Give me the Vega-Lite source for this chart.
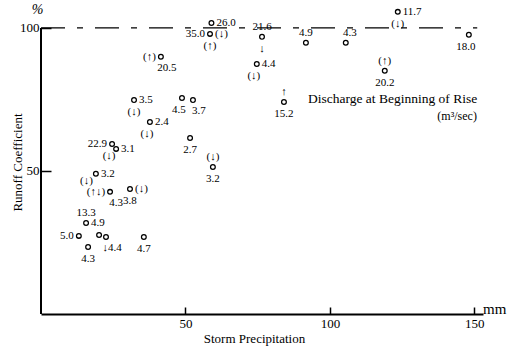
{
  "$schema": "https://vega.github.io/schema/vega-lite/v6.json",
  "width": 442,
  "height": 309,
  "autosize": {"type": "none"},
  "padding": {"left": 41, "top": 5, "right": 26, "bottom": 35},
  "background": "white",
  "config": {"view": {"stroke": null}, "font": "Liberation Serif"},
  "datasets": {
    "points": [
      {"precip": 59.0, "runoff": 101.7},
      {"precip": 58.5, "runoff": 97.9},
      {"precip": 76.5, "runoff": 96.9},
      {"precip": 74.7, "runoff": 87.4},
      {"precip": 91.7, "runoff": 94.8},
      {"precip": 105.5, "runoff": 94.8},
      {"precip": 123.5, "runoff": 105.6},
      {"precip": 119.0, "runoff": 85.0},
      {"precip": 148.1, "runoff": 97.6},
      {"precip": 84.1, "runoff": 74.1},
      {"precip": 41.5, "runoff": 89.9},
      {"precip": 32.2, "runoff": 74.8},
      {"precip": 48.8, "runoff": 75.5},
      {"precip": 52.6, "runoff": 74.8},
      {"precip": 37.7, "runoff": 67.1},
      {"precip": 51.6, "runoff": 61.5},
      {"precip": 59.5, "runoff": 51.4},
      {"precip": 24.6, "runoff": 59.4},
      {"precip": 26.0, "runoff": 57.7},
      {"precip": 19.0, "runoff": 49.0},
      {"precip": 23.9, "runoff": 42.7},
      {"precip": 30.8, "runoff": 43.7},
      {"precip": 15.6, "runoff": 31.8},
      {"precip": 13.1, "runoff": 27.3},
      {"precip": 16.3, "runoff": 23.4},
      {"precip": 20.1, "runoff": 27.6},
      {"precip": 22.5, "runoff": 26.9},
      {"precip": 35.6, "runoff": 26.9}
    ],
    "labels": [
      {"precip": 59.0, "runoff": 101.7, "text": "26.0", "pos": "right"},
      {"precip": 58.5, "runoff": 97.9, "text": "35.0", "pos": "left"},
      {"precip": 58.5, "runoff": 97.9, "text": "(↓)", "pos": "right"},
      {"precip": 58.5, "runoff": 97.9, "text": "(↑)", "pos": "below"},
      {"precip": 76.5, "runoff": 96.9, "text": "21.6", "pos": "above"},
      {"precip": 76.5, "runoff": 96.9, "text": "↓", "pos": "below"},
      {"precip": 74.7, "runoff": 87.4, "text": "4.4", "pos": "right"},
      {"precip": 74.7, "runoff": 87.4, "text": "(↓)", "pos": "belowleft"},
      {"precip": 91.7, "runoff": 94.8, "text": "4.9", "pos": "above"},
      {"precip": 105.5, "runoff": 94.8, "text": "4.3", "pos": "aboveright"},
      {"precip": 123.5, "runoff": 105.6, "text": "11.7", "pos": "right"},
      {"precip": 123.5, "runoff": 105.6, "text": "(↓)", "pos": "below"},
      {"precip": 119.0, "runoff": 85.0, "text": "20.2", "pos": "below"},
      {"precip": 119.0, "runoff": 85.0, "text": "(↑)", "pos": "above"},
      {"precip": 148.1, "runoff": 97.6, "text": "18.0", "pos": "belowleft"},
      {"precip": 84.1, "runoff": 74.1, "text": "15.2", "pos": "below"},
      {"precip": 84.1, "runoff": 74.1, "text": "↑", "pos": "above"},
      {"precip": 41.5, "runoff": 89.9, "text": "(↑)", "pos": "left"},
      {"precip": 41.5, "runoff": 89.9, "text": "20.5", "pos": "belowright"},
      {"precip": 32.2, "runoff": 74.8, "text": "3.5", "pos": "right"},
      {"precip": 32.2, "runoff": 74.8, "text": "(↓)", "pos": "below"},
      {"precip": 48.8, "runoff": 75.5, "text": "4.5", "pos": "belowleft"},
      {"precip": 52.6, "runoff": 74.8, "text": "3.7", "pos": "belowright"},
      {"precip": 37.7, "runoff": 67.1, "text": "2.4", "pos": "right"},
      {"precip": 37.7, "runoff": 67.1, "text": "(↓)", "pos": "belowleft"},
      {"precip": 51.6, "runoff": 61.5, "text": "2.7", "pos": "below"},
      {"precip": 59.5, "runoff": 51.4, "text": "3.2", "pos": "below"},
      {"precip": 59.5, "runoff": 51.4, "text": "(↓)", "pos": "above"},
      {"precip": 24.6, "runoff": 59.4, "text": "22.9", "pos": "left"},
      {"precip": 24.6, "runoff": 59.4, "text": "(↓)", "pos": "belowleft"},
      {"precip": 26.0, "runoff": 57.7, "text": "3.1", "pos": "right"},
      {"precip": 19.0, "runoff": 49.0, "text": "3.2", "pos": "right"},
      {"precip": 19.0, "runoff": 49.0, "text": "(↓)", "pos": "leftbelow"},
      {"precip": 23.9, "runoff": 42.7, "text": "(↑↓)", "pos": "left"},
      {"precip": 23.9, "runoff": 42.7, "text": "4.3", "pos": "belowright"},
      {"precip": 30.8, "runoff": 43.7, "text": "(↓)", "pos": "right"},
      {"precip": 30.8, "runoff": 43.7, "text": "3.8", "pos": "below"},
      {"precip": 15.6, "runoff": 31.8, "text": "13.3", "pos": "above"},
      {"precip": 15.6, "runoff": 31.8, "text": "4.9", "pos": "right"},
      {"precip": 13.1, "runoff": 27.3, "text": "5.0", "pos": "left"},
      {"precip": 16.3, "runoff": 23.4, "text": "4.3", "pos": "below"},
      {"precip": 22.5, "runoff": 26.9, "text": "↓4.4", "pos": "belowright"},
      {"precip": 35.6, "runoff": 26.9, "text": "4.7", "pos": "below"}
    ]
  },
  "encoding": {
    "x": {
      "field": "precip",
      "type": "quantitative",
      "scale": {"domain": [0, 153], "nice": false, "zero": false},
      "axis": {
        "values": [50, 100, 150],
        "grid": false,
        "domainColor": "black",
        "domainWidth": 2,
        "tickColor": "black",
        "tickWidth": 1.5,
        "tickSize": -7,
        "labelPadding": 10,
        "labelColor": "black",
        "labelFont": "Liberation Serif",
        "labelFontSize": 13,
        "title": "Storm Precipitation",
        "titleFont": "Liberation Serif",
        "titleFontSize": 13,
        "titleFontWeight": "normal",
        "titleColor": "black",
        "titleX": 213,
        "titleY": 24,
        "titleAlign": "center",
        "titleBaseline": "middle"
      }
    },
    "y": {
      "field": "runoff",
      "type": "quantitative",
      "scale": {"domain": [0, 108], "nice": false, "zero": false},
      "axis": {
        "values": [50, 100],
        "grid": false,
        "domain": false,
        "tickColor": "black",
        "tickWidth": 1.5,
        "tickSize": -10,
        "labelPadding": 12,
        "labelColor": "black",
        "labelFont": "Liberation Serif",
        "labelFontSize": 13,
        "title": "Runoff Coefficient",
        "titleFont": "Liberation Sans Narrow",
        "titleFontSize": 13,
        "titleFontWeight": "normal",
        "titleColor": "black",
        "titleAngle": -90,
        "titleX": -24,
        "titleY": 157,
        "titleAlign": "center",
        "titleBaseline": "middle"
      }
    }
  },
  "layer": [
    {
      "data": {"values": [{"precip": 0, "runoff": 0, "runoff2": 100}]},
      "mark": {"type": "rule", "color": "black", "strokeWidth": 2},
      "encoding": {"y2": {"field": "runoff2"}}
    },
    {
      "data": {"values": [{"precip": 0, "precip2": 151, "runoff": 100}]},
      "mark": {"type": "rule", "color": "black", "strokeWidth": 1.2, "strokeDash": [24, 12, 6, 12]},
      "encoding": {"x2": {"field": "precip2"}}
    },
    {
      "data": {"name": "points"},
      "mark": {"type": "point", "shape": "circle", "filled": false, "stroke": "black", "strokeWidth": 1.3, "size": 22, "opacity": 1}
    },
    {
      "data": {"name": "labels"},
      "transform": [{"filter": "datum.pos === 'right'"}],
      "mark": {"type": "text", "align": "left", "baseline": "middle", "dx": 5, "fontSize": 11, "font": "Liberation Serif", "color": "black"},
      "encoding": {"text": {"field": "text"}}
    },
    {
      "data": {"name": "labels"},
      "transform": [{"filter": "datum.pos === 'left'"}],
      "mark": {"type": "text", "align": "right", "baseline": "middle", "dx": -5, "fontSize": 11, "font": "Liberation Serif", "color": "black"},
      "encoding": {"text": {"field": "text"}}
    },
    {
      "data": {"name": "labels"},
      "transform": [{"filter": "datum.pos === 'above'"}],
      "mark": {"type": "text", "align": "center", "baseline": "middle", "dy": -10, "fontSize": 11, "font": "Liberation Serif", "color": "black"},
      "encoding": {"text": {"field": "text"}}
    },
    {
      "data": {"name": "labels"},
      "transform": [{"filter": "datum.pos === 'aboveright'"}],
      "mark": {"type": "text", "align": "center", "baseline": "middle", "dx": 4, "dy": -10, "fontSize": 11, "font": "Liberation Serif", "color": "black"},
      "encoding": {"text": {"field": "text"}}
    },
    {
      "data": {"name": "labels"},
      "transform": [{"filter": "datum.pos === 'below'"}],
      "mark": {"type": "text", "align": "center", "baseline": "middle", "dy": 12, "fontSize": 11, "font": "Liberation Serif", "color": "black"},
      "encoding": {"text": {"field": "text"}}
    },
    {
      "data": {"name": "labels"},
      "transform": [{"filter": "datum.pos === 'belowright'"}],
      "mark": {"type": "text", "align": "center", "baseline": "middle", "dx": 6, "dy": 11, "fontSize": 11, "font": "Liberation Serif", "color": "black"},
      "encoding": {"text": {"field": "text"}}
    },
    {
      "data": {"name": "labels"},
      "transform": [{"filter": "datum.pos === 'belowleft'"}],
      "mark": {"type": "text", "align": "center", "baseline": "middle", "dx": -3, "dy": 12, "fontSize": 11, "font": "Liberation Serif", "color": "black"},
      "encoding": {"text": {"field": "text"}}
    },
    {
      "data": {"name": "labels"},
      "transform": [{"filter": "datum.pos === 'leftbelow'"}],
      "mark": {"type": "text", "align": "right", "baseline": "middle", "dx": -3, "dy": 7, "fontSize": 11, "font": "Liberation Serif", "color": "black"},
      "encoding": {"text": {"field": "text"}}
    },
    {
      "data": {"values": [{"precip": 92.4, "runoff": 75.2, "text": "Discharge at Beginning of Rise"}]},
      "mark": {"type": "text", "align": "left", "baseline": "middle", "fontSize": 13.5, "font": "Liberation Serif", "color": "black"},
      "encoding": {"text": {"field": "text"}}
    },
    {
      "data": {"values": [{"precip": 150.9, "runoff": 69.2, "text": "(m³/sec)"}]},
      "mark": {"type": "text", "align": "right", "baseline": "middle", "fontSize": 12, "font": "Liberation Serif", "color": "black"},
      "encoding": {"text": {"field": "text"}}
    },
    {
      "data": {"values": [{"precip": 153, "runoff": 1.8, "text": "mm"}]},
      "mark": {"type": "text", "align": "left", "baseline": "middle", "fontSize": 15, "font": "Liberation Serif", "color": "black"},
      "encoding": {"text": {"field": "text"}}
    },
    {
      "data": {"values": [{"precip": -1.2, "runoff": 106.3, "text": "%"}]},
      "mark": {"type": "text", "align": "center", "baseline": "middle", "fontSize": 14, "fontStyle": "italic", "font": "Liberation Serif", "color": "black"},
      "encoding": {"text": {"field": "text"}}
    }
  ]
}
